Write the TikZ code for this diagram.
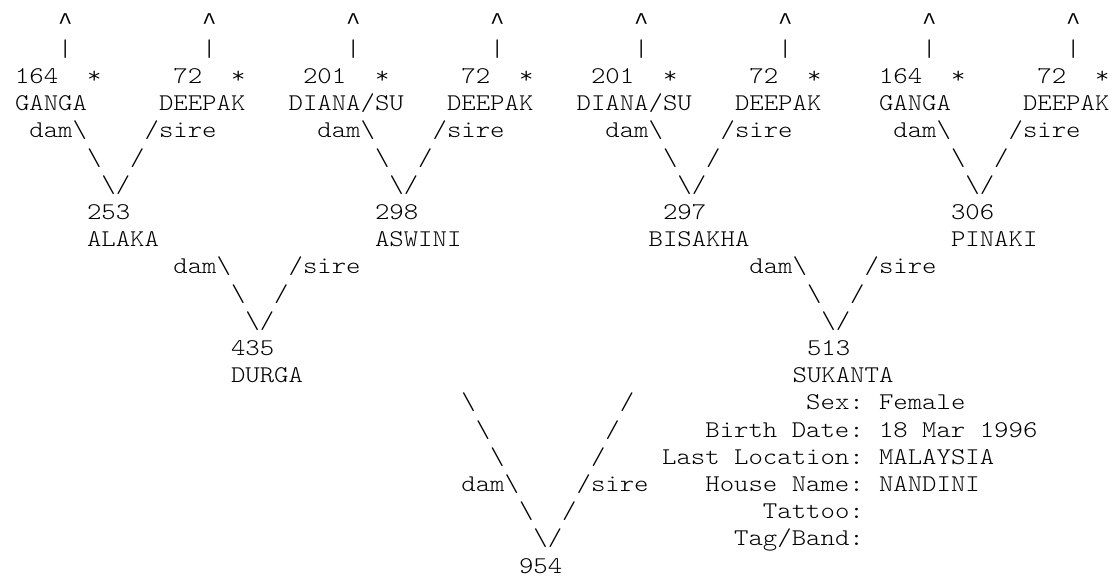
\documentclass[tikz,border=0pt]{standalone}
\usepackage{fontspec}
\setmonofont{lmmonolt10-regular.otf}[FakeStretch=1.143]
\newfontfamily\caretfont{Liberation Mono}
\usepackage{tikz}
\newcommand{\pedfont}{\ttfamily\fontsize{12pt}{13.6pt}\selectfont}

\begin{document}
\begin{tikzpicture}[
    x=7.2pt, y=-13.6pt,
    txt/.style={font=\pedfont, inner sep=0pt, anchor=base west},
    lbl/.style={txt, anchor=base east}
]
\useasboundingbox (-7.3pt,14.5pt) rectangle (549.2pt,-278.5pt);

% top line of the grand-parents
\foreach \s in {0,20,40,60}{
    \foreach \o in {3,13}{
        \node[txt] (up\s-\o) at (\s+\o,0) {\caretfont\textasciicircum};
        \node[txt] (bar\s-\o) at (\s+\o,1) {|};
    }
    \node[txt] (starA\s) at (\s+5,2) {*};
    \node[txt] (starB\s) at (\s+15,2) {*};
}

\node[txt] (id164a) at (0,2) {164};
\node[txt] (id72a) at (11,2) {72};
\node[txt] (id201a) at (20,2) {201};
\node[txt] (id72b) at (31,2) {72};
\node[txt] (id201b) at (40,2) {201};
\node[txt] (id72c) at (51,2) {72};
\node[txt] (id164b) at (60,2) {164};
\node[txt] (id72d) at (71,2) {72};

\node[txt] (gangaA) at (0,3) {GANGA};
\node[txt] (deepakA) at (10,3) {DEEPAK};
\node[txt] (dianaA) at (19,3) {DIANA/SU};
\node[txt] (deepakB) at (30,3) {DEEPAK};
\node[txt] (dianaB) at (39,3) {DIANA/SU};
\node[txt] (deepakC) at (50,3) {DEEPAK};
\node[txt] (gangaB) at (60,3) {GANGA};
\node[txt] (deepakD) at (70,3) {DEEPAK};

% dam/sire branches
\foreach \c/\r in {5/4,25/4,45/4,65/4,15/9,55/9,35/17}{
    \node[txt] (dam\c-\r) at (\c-4,\r) {dam\textbackslash};
    \node[txt] (sire\c-\r) at (\c+4,\r) {/sire};
    \node[txt] (bsA\c-\r) at (\c,\r+1) {\textbackslash};
    \node[txt] (slA\c-\r) at (\c+3,\r+1) {/};
    \node[txt] (bsB\c-\r) at (\c+1,\r+2) {\textbackslash};
    \node[txt] (slB\c-\r) at (\c+2,\r+2) {/};
}
\foreach \k in {0,1,2}{
    \node[txt] (bsL\k) at (31+\k,14+\k) {\textbackslash};
    \node[txt] (slL\k) at (42-\k,14+\k) {/};
}

\node[txt] (id253) at (5,7) {253};
\node[txt] (alaka) at (5,8) {ALAKA};
\node[txt] (id298) at (25,7) {298};
\node[txt] (aswini) at (25,8) {ASWINI};
\node[txt] (id297) at (45,7) {297};
\node[txt] (bisakha) at (44,8) {BISAKHA};
\node[txt] (id306) at (65,7) {306};
\node[txt] (pinaki) at (65,8) {PINAKI};

\node[txt] (id435) at (15,12) {435};
\node[txt] (durga) at (15,13) {DURGA};
\node[txt] (id513) at (55,12) {513};
\node[txt] (sukanta) at (54,13) {SUKANTA};

\node[txt] (id954) at (35,20) {954};

% details of the dam
\node[lbl] (sex) at (59,14) {Sex:};
\node[txt] (sexV) at (60,14) {Female};
\node[lbl] (birth) at (59,15) {Birth Date:};
\node[txt] (birthV) at (60,15) {18 Mar 1996};
\node[lbl] (loc) at (59,16) {Last Location:};
\node[txt] (locV) at (60,16) {MALAYSIA};
\node[lbl] (house) at (59,17) {House Name:};
\node[txt] (houseV) at (60,17) {NANDINI};
\node[lbl] (tattoo) at (59,18) {Tattoo:};
\node[lbl] (tag) at (59,19) {Tag/Band:};
\end{tikzpicture}
\end{document}
